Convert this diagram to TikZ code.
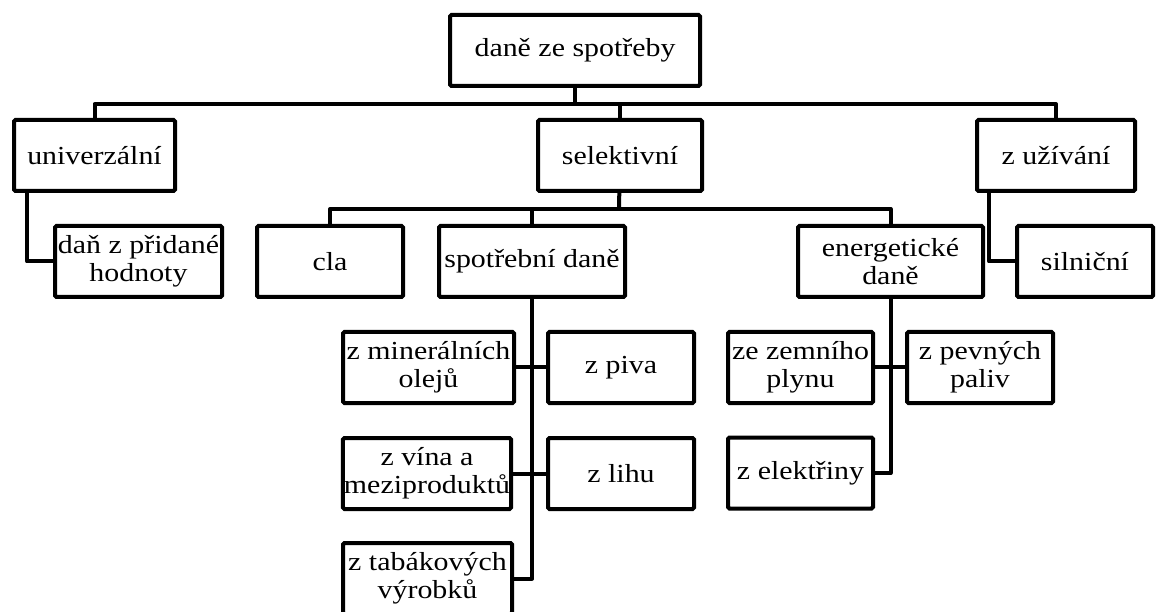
\documentclass[tikz,border=0pt]{standalone}
\usepackage{fontspec}
\setmainfont[FakeStretch=1.15]{Liberation Serif}
\usetikzlibrary{positioning}

\begin{document}
\begin{tikzpicture}[
	x=1pt, y=-1pt,
	box/.style={rectangle,draw,line width=4pt,rounded corners=1.5pt,minimum height=71pt,inner sep=1pt,align=center,font=\fontsize{26}{28}\selectfont},
	link/.style={line width=4pt,line join=round}
]
\useasboundingbox (0,0) rectangle (1157,612);

% Top level
\node[box, minimum width=250pt] (root) at (575,50.5) {daně ze spotřeby};
\node[box, minimum width=161pt] (univ) at (94.5,155.5) {univerzální};
\node[box, minimum width=164pt] (sel) at (620,155.5) {selektivní};
\node[box, minimum width=158pt] (uziv) at (1056,155.5) {z užívání};

\coordinate (b1) at (575,104);
\draw[link] (root) -- (b1);
\draw[link] (univ.north) |- (b1) -| (uziv.north);
\draw[link] (sel.north) -- (sel.north |- b1);

% Second level
\node[box, minimum width=167pt] (dph) at (138.5,261.5) {daň z přidané\\hodnoty};
\node[box, minimum width=146pt] (cla) at (330,261.5) {cla};
\node[box, minimum width=186pt] (spd) at (532,261.5) {spotřební daně};
\node[box, minimum width=185pt] (ene) at (890.5,261.5) {energetické\\daně};
\node[box, minimum width=136pt] (siln) at (1085,261.5) {silniční};

\coordinate (b2) at (619,209);
\draw[link] (sel) -- (b2);
\draw[link] (cla.north) |- (b2) -| (ene.north);
\draw[link] (spd.north) -- (spd.north |- b2);
\draw[link] ([xshift=15pt]univ.south west) |- (dph.west);
\draw[link] ([xshift=14pt]uziv.south west) |- (siln.west);

% Excise duties
\node[box, minimum width=171pt] (minol) at (428.5,367.5) {z minerálních\\olejů};
\node[box, minimum width=146pt] (piva) at (621,367.5) {z piva};
\node[box, minimum width=168pt] (vino) at (427,473.5) {z vína a\\meziproduktů};
\node[box, minimum width=146pt] (lihu) at (621,473.5) {z lihu};
\node[box, minimum width=169pt] (tabak) at (427.5,578.5) {z tabákových\\výrobků};

\draw[link] (spd.south) -- (spd.south |- tabak.east) -- (tabak.east);
\draw[link] (minol.east) -- (piva.west);
\draw[link] (vino.east) -- (lihu.west);

% Energy taxes
\node[box, minimum width=145pt] (zemni) at (800.5,367.5) {ze zemního\\plynu};
\node[box, minimum width=146pt] (pevne) at (980,367.5) {z pevných\\paliv};
\node[box, minimum width=145pt] (elek) at (800.5,473) {z elektřiny};

\draw[link] (ene.south) -- (ene.south |- elek.east) -- (elek.east);
\draw[link] (zemni.east) -- (pevne.west);

\end{tikzpicture}
\end{document}
